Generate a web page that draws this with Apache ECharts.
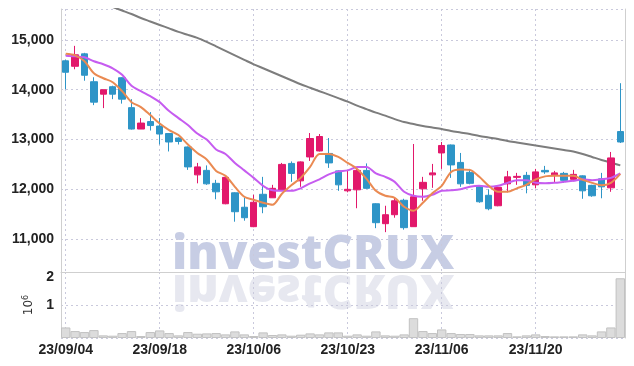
<!DOCTYPE html>
<html>
<head>
<meta charset="utf-8">
<script src="https://cdn.jsdelivr.net/npm/echarts@6/dist/echarts.min.js"></script>
<style>
  html, body { margin: 0; padding: 0; background: #fff; }
  #chart { width: 634px; height: 366px; }
</style>
</head>
<body>
<div id="chart"></div>
<script>
var dates = ['23/09/04','23/09/05','23/09/06','23/09/07','23/09/08','23/09/11','23/09/12','23/09/13','23/09/14','23/09/15',
  '23/09/18','23/09/19','23/09/20','23/09/21','23/09/22','23/09/25','23/09/26','23/09/27','23/10/04','23/10/05',
  '23/10/06','23/10/10','23/10/11','23/10/12','23/10/13','23/10/16','23/10/17','23/10/18','23/10/19','23/10/20',
  '23/10/23','23/10/24','23/10/25','23/10/26','23/10/27','23/10/30','23/10/31','23/11/01','23/11/02','23/11/03',
  '23/11/06','23/11/07','23/11/08','23/11/09','23/11/10','23/11/13','23/11/14','23/11/15','23/11/16','23/11/17',
  '23/11/20','23/11/21','23/11/22','23/11/23','23/11/24','23/11/27','23/11/28','23/11/29','23/11/30','23/12/01'];

// [open, close, low, high]
var ohlc = [
  [14580,14350,14010,14600],[14470,14700,14410,14880],[14720,14290,14180,14740],[14160,13750,13690,14250],[13910,14000,13630,14000],
  [14060,13910,13810,14080],[14240,13810,13720,14250],[13640,13210,13200,13810],[13210,13330,13210,13430],[13360,13280,13180,13550],
  [13270,13110,12900,13430],[13120,12950,12760,13120],[13030,12960,12900,13040],[12850,12450,12390,12860],[12290,12450,12120,12530],
  [12380,12110,12090,12480],[12120,11950,11800,12190],[11710,12240,11700,12240],[11930,11550,11350,11940],[11640,11430,11370,11830],
  [11250,11740,11240,11890],[11900,11650,11520,12250],[11830,12020,11830,12090],[11980,12500,11970,12530],[12520,12320,12150,12560],
  [12170,12550,12050,12560],[12650,13020,12570,13130],[12770,13060,12760,13110],[12720,12530,12430,13030],[12370,12090,11970,12380],
  [11970,12000,11940,12380],[11990,12380,11620,12450],[12380,12020,12010,12520],[11710,11330,11220,11720],[11310,11490,11140,11670],
  [11490,11770,11430,11840],[11780,11230,11190,11810],[11250,11850,11250,12910],[12010,12140,11770,12250],[12290,12330,12030,12510],
  [12730,12880,12410,12950],[12890,12490,12230,12900],[12540,12110,12050,12730],[12340,12120,12100,12410],[12060,11750,11730,12070],
  [11880,11610,11580,12000],[11670,12040,11660,12050],[12110,12250,11940,12370],[12240,12260,12090,12330],[12280,12080,11920,12350],
  [12090,12350,12020,12410],[12380,12350,12310,12470],[12290,12330,12130,12370],[12320,12180,12130,12350],[12200,12300,12160,12390],
  [12270,11970,11810,12280],[12080,11870,11850,12090],[12210,12050,11820,12330],[12030,12630,11950,12750],[13160,12950,12930,14130]
];

var maShort = [14720,14690,14570,14330,14230,14150,13970,13750,13650,13490,13320,13190,13090,12900,12730,
  12600,12370,12270,12050,11850,11790,11730,11690,11910,12080,12230,12450,12710,12710,12650,
  12530,12410,12210,11970,11870,11830,11650,11570,11730,11920,12070,12350,12400,12390,12250,
  12070,11950,11950,12020,12090,12200,12260,12270,12270,12270,12190,12130,12080,12130,12310];

var maMid = [14680,14670,14650,14570,14510,14430,14300,14080,13970,13870,13750,13570,13430,13290,13120,
  13000,12800,12710,12530,12380,12230,12070,11980,11970,11970,12020,12120,12200,12300,12360,
  12380,12450,12450,12320,12250,12150,11950,11870,11850,11890,11970,11980,12000,12050,12070,
  12050,12070,12130,12180,12180,12130,12120,12130,12150,12170,12200,12180,12200,12230,12320];

var maLong = [16000,15930,15860,15790,15730,15660,15590,15520,15440,15370,15300,15230,15160,15100,15040,
  14960,14870,14780,14690,14600,14510,14430,14350,14270,14190,14110,14040,13970,13900,13830,
  13760,13680,13610,13540,13480,13410,13350,13310,13270,13240,13210,13170,13140,13110,13070,
  13040,13010,12970,12940,12910,12880,12850,12820,12790,12760,12710,12650,12590,12540,12480];

// in millions of shares
var volume = [0.32,0.21,0.18,0.24,0.08,0.07,0.15,0.21,0.06,0.18,0.23,0.15,0.08,0.18,0.13,
  0.14,0.15,0.11,0.20,0.11,0.06,0.17,0.09,0.11,0.07,0.10,0.14,0.11,0.17,0.17,
  0.07,0.11,0.07,0.20,0.08,0.07,0.11,0.60,0.21,0.15,0.26,0.15,0.12,0.12,0.08,
  0.08,0.08,0.15,0.05,0.08,0.11,0.06,0.05,0.05,0.05,0.11,0.08,0.20,0.32,1.81];

var labelFont = "'Liberation Sans', Arial, sans-serif";
var gridLine = { color: '#c9c9dc', type: [2, 3], width: 1 };
var wmFont = "800 47px 'Open Sans', sans-serif";

var myChart = echarts.init(document.getElementById('chart'));

myChart.setOption({
  animation: false,
  backgroundColor: '#fff',
  grid: [
    { left: 61, right: 9, top: 9, height: 263 },
    { left: 61, right: 9, top: 272, height: 66 }
  ],
  graphic: [
    {
      type: 'text', x: 172, y: 272, z: -10, silent: true,
      style: { text: 'investCRUX', x: 0, y: -16, verticalAlign: 'middle', font: wmFont, fill: '#c7cde4' }
    },
    {
      type: 'text', x: 172, y: 272, scaleY: -1, z: -10, silent: true,
      style: { text: 'investCRUX', x: 0, y: -16, verticalAlign: 'middle', font: wmFont, fill: '#e7e8f0' }
    }
  ],
  xAxis: [
    {
      type: 'category', gridIndex: 0, data: dates, boundaryGap: true,
      axisLine: { lineStyle: { color: '#cfcfcf' } },
      axisTick: { show: false },
      axisLabel: { show: false, interval: 9 },
      splitLine: { show: true, interval: 9, alignWithLabel: true, lineStyle: gridLine }
    },
    {
      type: 'category', gridIndex: 1, data: dates, boundaryGap: true,
      axisLine: { show: false },
      axisTick: { show: false },
      axisLabel: { interval: 9, margin: 5, color: '#222', fontWeight: 'bold', fontSize: 14, fontFamily: labelFont },
      splitLine: { show: true, interval: 9, alignWithLabel: true, lineStyle: gridLine }
    }
  ],
  yAxis: [
    {
      type: 'value', gridIndex: 0, min: 10340, max: 15620, scale: true,
      axisLine: { show: true, lineStyle: { color: '#cfcfcf' } },
      axisTick: { show: false },
      axisLabel: { showMinLabel: false, showMaxLabel: false, margin: 7, color: '#222', fontWeight: 'bold', fontSize: 14, fontFamily: labelFont,
        formatter: function (v) { return v.toLocaleString('en-US'); } },
      splitLine: { show: true, lineStyle: gridLine }
    },
    {
      type: 'value', gridIndex: 1, min: 0, max: 2, interval: 1,
      axisLine: { show: true, lineStyle: { color: '#cfcfcf' } },
      axisTick: { show: false },
      axisLabel: { showMinLabel: false, margin: 7, color: '#222', fontWeight: 'bold', fontSize: 14, fontFamily: labelFont,
        formatter: function (v) { return v === 2 ? '{top|2}' : String(v); },
        rich: { top: { color: '#222', fontWeight: 'bold', fontSize: 14, fontFamily: labelFont, padding: [11, 0, 0, 0] } } },
      splitLine: { show: true, lineStyle: gridLine },
      name: '10{s|6}', nameLocation: 'middle', nameGap: 22, nameRotate: 90,
      nameTextStyle: { color: '#333', fontSize: 12, fontFamily: 'DejaVu Sans',
        rich: { s: { fontSize: 8, verticalAlign: 'top', padding: [0, 0, 6, 0] } } }
    },
    {
      type: 'value', gridIndex: 0, position: 'right', min: 10340, max: 15620,
      axisLine: { show: true, lineStyle: { color: '#cfcfcf' } },
      axisTick: { show: false }, axisLabel: { show: false }, splitLine: { show: false }
    },
    {
      type: 'value', gridIndex: 1, position: 'right', min: 0, max: 2,
      axisLine: { show: true, lineStyle: { color: '#cfcfcf' } },
      axisTick: { show: false }, axisLabel: { show: false }, splitLine: { show: false }
    }
  ],
  series: [
    {
      name: 'MA long', type: 'line', xAxisIndex: 0, yAxisIndex: 0, data: maLong,
      symbol: 'none', smooth: 0.3, lineStyle: { color: '#7d7d7d', width: 2 }, z: 3
    },
    {
      name: 'Price', type: 'candlestick', xAxisIndex: 0, yAxisIndex: 0, data: ohlc,
      barWidth: '72%',
      itemStyle: { color: '#e2186b', color0: '#2e95c7', borderColor: '#e2186b', borderColor0: '#2e95c7', borderWidth: 1 },
      z: 4
    },
    {
      name: 'MA mid', type: 'line', xAxisIndex: 0, yAxisIndex: 0, data: maMid,
      symbol: 'none', smooth: 0.3, lineStyle: { color: '#c65cf0', width: 2 }, z: 5
    },
    {
      name: 'MA short', type: 'line', xAxisIndex: 0, yAxisIndex: 0, data: maShort,
      symbol: 'none', smooth: 0.3, lineStyle: { color: '#ea8a52', width: 2 }, z: 6
    },
    {
      name: 'Volume', type: 'bar', xAxisIndex: 1, yAxisIndex: 1, data: volume,
      barCategoryGap: '0%',
      itemStyle: { color: '#dcdcdc', borderColor: '#c2c2c2', borderWidth: 1 }
    }
  ]
});
</script>
</body>
</html>
